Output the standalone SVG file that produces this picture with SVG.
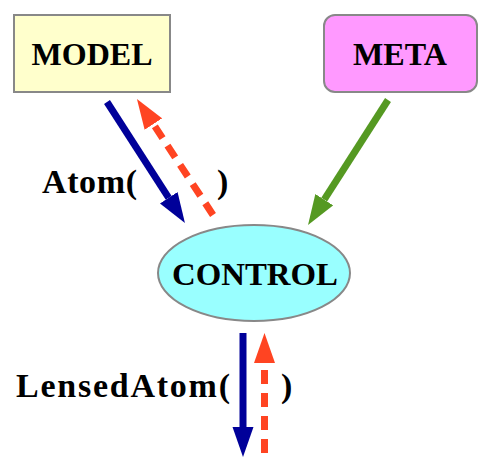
<svg xmlns="http://www.w3.org/2000/svg" width="492" height="470" viewBox="0 0 492 470">
<style>
.node{stroke:#888888;stroke-width:2}
.lbl{font-family:"Liberation Serif","Times New Roman",serif;font-weight:bold;fill:#000000}
.nt{font-size:32px;text-anchor:middle}
.et{font-size:34px}
.blue{stroke:#000099;stroke-width:7;fill:none}
.red{stroke:#FF4422;stroke-width:7;fill:none;stroke-dasharray:14,9}
.green{stroke:#559922;stroke-width:7;fill:none}
</style>
<defs>
<marker id="hb" markerUnits="userSpaceOnUse" markerWidth="30" markerHeight="22" viewBox="0 -11 30 22" refX="0" refY="0" orient="auto"><path d="M0,-10.5 L30,0 L0,10.5 z" fill="#000099"/></marker>
<marker id="hr" markerUnits="userSpaceOnUse" markerWidth="30" markerHeight="22" viewBox="0 -11 30 22" refX="0" refY="0" orient="auto"><path d="M0,-10.5 L30,0 L0,10.5 z" fill="#FF4422"/></marker>
<marker id="hg" markerUnits="userSpaceOnUse" markerWidth="30" markerHeight="22" viewBox="0 -11 30 22" refX="0" refY="0" orient="auto"><path d="M0,-10.5 L30,0 L0,10.5 z" fill="#559922"/></marker>
</defs>
<rect width="492" height="470" fill="#ffffff"/>
<g id="model">
<rect class="node" x="14" y="15" width="156" height="77" fill="#FFFFCC"/>
<text class="lbl nt" x="92" y="65" textLength="121" lengthAdjust="spacingAndGlyphs">MODEL</text>
</g>
<g id="meta">
<rect class="node" x="324" y="15" width="153" height="77" rx="11" ry="11" fill="#FF99FF"/>
<text class="lbl nt" x="400" y="65" textLength="94" lengthAdjust="spacingAndGlyphs">META</text>
</g>
<g id="control">
<ellipse class="node" cx="254" cy="273" rx="96" ry="48" fill="#99FFFF"/>
<text class="lbl nt" x="255" y="285" textLength="166" lengthAdjust="spacingAndGlyphs">CONTROL</text>
</g>
<g id="connectors">
<path class="blue" d="M107,102 L168.7,197.8" marker-end="url(#hb)"/>
<path class="red" d="M213,215 L153.4,124.1" marker-end="url(#hr)"/>
<path class="green" d="M388,100 L324.2,199.7" marker-end="url(#hg)"/>
<path class="blue" d="M243,333 L243,427" marker-end="url(#hb)"/>
<path class="red" d="M264.5,453 L264.5,363" marker-end="url(#hr)"/>
<text class="lbl et" x="42" y="193" textLength="95" lengthAdjust="spacing">Atom(</text>
<text class="lbl et" x="217" y="193">)</text>
<text class="lbl et" x="16" y="397" textLength="214" lengthAdjust="spacing">LensedAtom(</text>
<text class="lbl et" x="281" y="397">)</text>
</g>
</svg>
